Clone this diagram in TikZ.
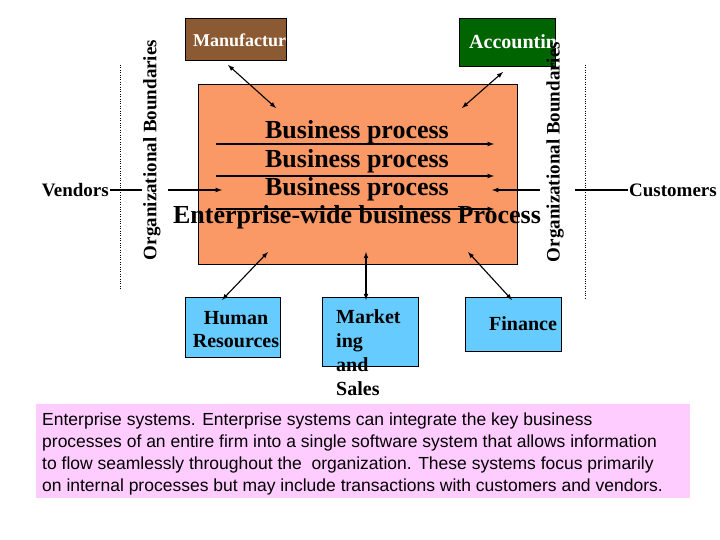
\documentclass[tikz,border=0pt]{standalone}
\usepackage{fontspec}
\setmainfont{Liberation Serif}
\setsansfont{Liberation Sans}
\begin{document}
\begin{tikzpicture}[x=1pt,y=-1pt,
  arr/.style={-latex,line width=1.2pt},
  darr/.style={latex-latex,line width=1.1pt},
  lbl/.style={font=\bfseries\fontsize{19}{21}\selectfont},
  bx/.style={font=\bfseries\fontsize{20}{23}\selectfont},
  bp/.style={font=\bfseries\fontsize{26}{28}\selectfont},
  dept/.style={draw=black,inner sep=0pt}]
\useasboundingbox (0,0) rectangle (720,540);
\node[dept,fill={rgb,255:red,250;green,153;blue,102},minimum width=319,minimum height=180,anchor=north west] (core) at (198,84) {};
\node[dept,fill={rgb,255:red,140;green,90;blue,50},minimum width=101,minimum height=42,anchor=north west] (man) at (185,18) {};
\node[white,font=\bfseries\fontsize{18}{20}\selectfont,anchor=west,inner sep=0pt] (mant) at (193,40) {Manufactur};
\node[dept,fill={rgb,255:red,0;green,100;blue,0},minimum width=96,minimum height=48,anchor=north west] (acc) at (459,18) {};
\node[white,font=\bfseries\fontsize{20}{22}\selectfont,anchor=west,inner sep=0pt] (acct) at (469,42) {Accountin};
\node[dept,fill={rgb,255:red,102;green,204;blue,255},minimum width=95,minimum height=60,anchor=north west] (hr) at (185,297) {};
\node[bx,align=center] (hrt) at (236,330) {Human\\Resources};
\node[dept,fill={rgb,255:red,102;green,204;blue,255},minimum width=96,minimum height=69,anchor=north west] (mk) at (322,297) {};
\node[align=left,anchor=north west,inner sep=0pt,font=\bfseries\fontsize{20}{24}\selectfont] (mkt) at (336,309) {Market\\ing\\and\\Sales};
\node[dept,fill={rgb,255:red,102;green,204;blue,255},minimum width=96,minimum height=54,anchor=north west] (fin) at (465,297) {};
\node[bx] (fint) at (523,324) {Finance};
\node[bp] (b1) at (357,132) {Business process};
\node[bp] (b2) at (357,161) {Business process};
\node[bp] (b3) at (357,189) {Business process};
\node[bp] (b4) at (357,217) {Enterprise-wide business Process};
\coordinate (l1a) at (216,144); \coordinate (l1b) at (494,144);
\coordinate (l2a) at (216,176); \coordinate (l2b) at (494,176);
\coordinate (l3a) at (216,209); \coordinate (l3b) at (494,209);
\draw[arr] (l1a) -- (l1b); \draw[arr] (l2a) -- (l2b); \draw[arr] (l3a) -- (l3b);
\node[lbl,rotate=90] (olb) at (152,150) {Organizational Boundaries};
\node[lbl,rotate=90] (orb) at (555,152) {Organizational Boundaries};
\coordinate (d1a) at (120,65); \coordinate (d1b) at (120,290);
\coordinate (d2a) at (585,65); \coordinate (d2b) at (585,300);
\draw[dotted] (d1a) -- (d1b); \draw[dotted] (d2a) -- (d2b);
\node[lbl,anchor=east,inner sep=1pt] (ven) at (110,190) {Vendors};
\node[lbl,anchor=west,inner sep=1pt] (cus) at (628,190) {Customers};
\coordinate (v1) at (142,190); \coordinate (v2) at (168,190); \coordinate (v3) at (222,190);
\draw[line width=1.2pt] (ven.east) -- (v1); \draw[arr] (v2) -- (v3);
\coordinate (c1) at (540,190); \coordinate (c2) at (492,190); \coordinate (c3) at (575,190);
\draw[arr] (c1) -- (c2); \draw[line width=1.2pt] (c3) -- (cus.west);
\coordinate (m1) at (228,65); \coordinate (m2) at (276,108);
\coordinate (a1) at (503,72); \coordinate (a2) at (462,108);
\coordinate (h1) at (268,252); \coordinate (h2) at (222,300);
\coordinate (k1) at (366,252); \coordinate (k2) at (366,300);
\coordinate (f1) at (468,252); \coordinate (f2) at (512,300);
\draw[darr] (m1) -- (m2); \draw[darr] (a1) -- (a2);
\draw[darr] (h1) -- (h2); \draw[darr] (k1) -- (k2); \draw[darr] (f1) -- (f2);
\node[fill={rgb,255:red,255;green,204;blue,255},minimum width=654,minimum height=94,anchor=north west,inner sep=0pt] (cap) at (36,404) {};
\node[anchor=north west,align=left,font=\sffamily\fontsize{17.5}{22}\selectfont,inner sep=0pt] (capt) at (42,413) {Enterprise systems. Enterprise systems can integrate the key business\\processes of an entire firm into a single software system that allows information\\to flow seamlessly throughout the\ \ organization. These systems focus primarily\\on internal processes but may include transactions with customers and vendors.};
\end{tikzpicture}
\end{document}
